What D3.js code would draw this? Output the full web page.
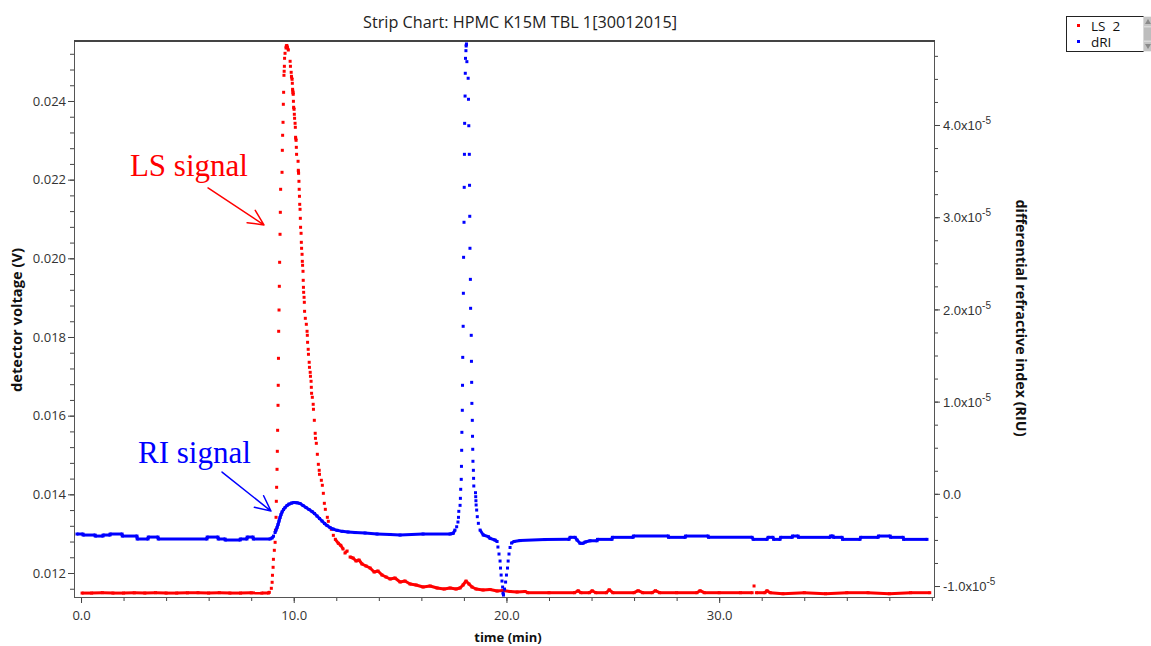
<!DOCTYPE html>
<html>
<head>
<meta charset="utf-8">
<script src="https://cdn.jsdelivr.net/npm/d3@7"></script>
<style>
  html, body { margin: 0; padding: 0; background: #fff; }
  svg { display: block; font-family: "Open Sans", "DejaVu Sans", sans-serif; }
</style>
</head>
<body>
<svg id="chart" width="1151" height="646"></svg>
<script>
// ---- chart text -------------------------------------------------------
const chartTitle = "Strip Chart: HPMC K15M TBL 1[30012015]";
const xTitle = "time (min)";
const yLeftTitle = "detector voltage (V)";
const yRightTitle = "differential refractive index (RIU)";
const seriesNames = ["LS  2", "dRI"];

// ---- tick values --------------------------------------------------------
const timeTicks = [0, 10, 20, 30];
const voltTicks = [0.012, 0.014, 0.016, 0.018, 0.020, 0.022, 0.024];
// refractive index ticks, in units of 1e-5 RIU
const riTicks = [-1, 0, 1, 2, 3, 4];

// ---- LS 2 light scattering detector: [time (min), voltage (V)] ----------
const lsSignal = [
  [0.05,0.011490],[0.5,0.011490],[1.0,0.011500],[1.5,0.011490],[2.0,0.011490],[2.5,0.011495],
  [3.0,0.011490],[3.5,0.011500],[4.0,0.011490],[4.5,0.011490],[5.0,0.011495],[5.5,0.011500],
  [6.0,0.011490],[6.5,0.011500],[7.0,0.011490],[7.5,0.011490],[8.0,0.011495],[8.5,0.011490],
  [8.815,0.011492],
  // leading edge of the polymer peak
  [8.853,0.011509],[8.947,0.011611],[8.985,0.011764],[9.000,0.011942],[9.030,0.012145],
  [9.045,0.012348],[9.088,0.012577],[9.125,0.012780],[9.140,0.013086],[9.168,0.013416],
  [9.182,0.013823],[9.196,0.014179],[9.215,0.014636],[9.229,0.015094],[9.243,0.015628],
  [9.262,0.016263],[9.272,0.016772],[9.282,0.017458],[9.292,0.018145],[9.309,0.018686],
  [9.323,0.019289],[9.337,0.019899],[9.356,0.020611],[9.370,0.021170],[9.384,0.021755],
  [9.450,0.022187],[9.464,0.022746],[9.478,0.023128],[9.497,0.023458],[9.511,0.023916],
  [9.525,0.024221],[9.540,0.024653],[9.550,0.024755],[9.560,0.024882],[9.570,0.025085],
  [9.591,0.025212],[9.638,0.025347],[9.652,0.025398],[9.675,0.025411],[9.699,0.025365],
  // trailing edge
  [9.746,0.025296],[9.830,0.025009],[9.845,0.024882],[9.880,0.024729],[9.893,0.024627],
  [9.922,0.024551],[9.934,0.024450],[9.946,0.024297],[9.965,0.024221],[9.975,0.024170],
  [9.985,0.023992],[9.995,0.023840],[10.016,0.023789],[10.028,0.023662],[10.040,0.023560],
  [10.063,0.023433],[10.075,0.023331],[10.087,0.023077],[10.110,0.023000],[10.122,0.022822],
  [10.134,0.022644],[10.204,0.022467],[10.216,0.022238],[10.228,0.022161],[10.245,0.021958],
  [10.257,0.021755],[10.269,0.021577],[10.281,0.021373],[10.298,0.021246],[10.310,0.021017],
  [10.322,0.020789],[10.345,0.020636],[10.357,0.020407],[10.369,0.020255],[10.392,0.020102],
  [10.404,0.019924],[10.416,0.019823],[10.436,0.019670],[10.446,0.019441],[10.456,0.019263],
  [10.466,0.019136],[10.486,0.019009],[10.498,0.018882],[10.510,0.018653],[10.545,0.018475],
  [10.592,0.018323],[10.627,0.018145],[10.639,0.018043],[10.651,0.017865],[10.680,0.017687],
  [10.692,0.017560],[10.727,0.017357],[10.739,0.017229],[10.774,0.017102],[10.786,0.017001],
  [10.815,0.016874],[10.827,0.016721],[10.839,0.016569],[10.874,0.016467],[10.915,0.016289],
  [10.927,0.016162],[10.968,0.015882],[11.009,0.015552],[11.021,0.015424],[11.062,0.015297],
  [11.110,0.015018],[11.157,0.014763],[11.198,0.014611],[11.210,0.014509],[11.298,0.014357],
  [11.345,0.014230],[11.392,0.014026],[11.439,0.013772],[11.486,0.013619],[11.580,0.013416],
  [11.627,0.013314],[11.768,0.013111],[11.862,0.012958],[11.956,0.012857],[12.097,0.012755],
  [12.210,0.012704],
  // slow decay towards baseline
  [12.32,0.012610],[12.41,0.012508],[12.51,0.012559],[12.65,0.012407],[12.79,0.012381],
  [12.93,0.012305],[13.07,0.012331],[13.21,0.012229],[13.40,0.012178],[13.59,0.012127],
  [13.78,0.012025],[13.96,0.012051],[14.15,0.011949],[14.34,0.011898],[14.53,0.011847],
  [14.76,0.011873],[15.00,0.011771],[15.23,0.011797],[15.47,0.011720],[15.75,0.011695],
  [16.08,0.011644],[16.41,0.011670],[16.74,0.011619],[17.07,0.011593],[17.35,0.011619],
  [17.63,0.011593],[17.82,0.011619],[17.96,0.011695],[18.10,0.011797],[18.24,0.011720],
  [18.38,0.011644],[18.57,0.011593],[18.90,0.011568],[19.23,0.011581],[19.56,0.011542],
  [19.84,0.011555],[20.17,0.011530],[20.50,0.011517],[20.87,0.011530],
  // baseline after elution
  [21.0,0.011499],[22.0,0.011499],[23.2,0.011499],[23.37,0.011550],[23.5,0.011499],
  [23.9,0.011499],[24.03,0.011550],[24.2,0.011499],[24.7,0.011499],[24.83,0.011575],
  [25.0,0.011499],[26.0,0.011499],[26.19,0.011550],[26.4,0.011499],[26.85,0.011499],
  [27.0,0.011550],[27.2,0.011499],[28.0,0.011499],[28.95,0.011499],[29.1,0.011550],
  [29.3,0.011499],[30.0,0.011499],[31.0,0.011499],[31.55,0.011499],[31.64,0.011670],
  [31.75,0.011499],[32.15,0.011499],[32.25,0.011550],[32.4,0.011499],[33.0,0.011474],
  [34.0,0.011499],[35.0,0.011474],[36.0,0.011499],[37.0,0.011499],[38.0,0.011474],
  [39.0,0.011499],[39.9,0.011499]
];

// ---- dRI refractive index detector: [time (min), RIU in units of 1e-5] --
const riSignal = [
  [-0.19,-0.436],[0.09,-0.436],[0.10,-0.447],[0.66,-0.447],[0.67,-0.458],[1.03,-0.458],
  [1.04,-0.447],[1.36,-0.447],[1.37,-0.436],[1.93,-0.436],[1.94,-0.458],[2.63,-0.458],
  [2.64,-0.490],[3.15,-0.490],[3.16,-0.469],[3.62,-0.469],[3.63,-0.490],[5.92,-0.490],
  [5.93,-0.469],[6.44,-0.469],[6.45,-0.490],[6.77,-0.490],[6.78,-0.501],[7.48,-0.501],
  [7.49,-0.490],[7.80,-0.490],[7.81,-0.469],[8.09,-0.469],[8.10,-0.490],[8.886,-0.490],
  // broad polymer band
  [8.980,-0.479],[9.050,-0.458],[9.121,-0.420],[9.168,-0.393],[9.215,-0.366],[9.262,-0.333],
  [9.309,-0.295],[9.356,-0.257],[9.403,-0.225],[9.450,-0.197],[9.521,-0.170],[9.591,-0.149],
  [9.685,-0.127],[9.779,-0.111],[9.897,-0.100],[10.014,-0.094],[10.155,-0.097],[10.296,-0.105],
  [10.437,-0.127],[10.578,-0.149],[10.719,-0.170],[10.860,-0.192],[10.978,-0.214],[11.095,-0.241],
  [11.213,-0.268],[11.331,-0.295],[11.448,-0.322],[11.566,-0.344],[11.707,-0.366],[11.848,-0.382],
  [12.036,-0.396],[12.271,-0.407],[12.553,-0.414],[12.882,-0.420],[13.352,-0.425],[13.916,-0.436],
  [14.527,-0.441],[14.998,-0.447],[16.079,-0.436],[17.348,-0.436],[17.442,-0.431],
  // solvent / salt peak
  [17.50,-0.428],[17.58,-0.393],[17.66,-0.357],[17.72,-0.306],[17.745,-0.255],[17.76,-0.190],
  [17.82,-0.125],[17.835,-0.049],[17.85,0.049],[17.875,0.157],[17.885,0.298],[17.895,0.472],
  [17.905,0.667],[17.925,0.906],[17.935,1.177],[17.945,1.480],[17.965,1.817],[17.975,2.175],
  [17.985,2.565],[18.005,2.945],[18.015,3.324],[18.025,3.682],[18.035,4.018],[18.055,4.314],
  [18.065,4.561],[18.075,4.723],[18.095,4.806],[18.105,4.857],[18.12,4.879],
  [18.14,4.687],[18.20,4.507],[18.215,4.279],[18.23,3.992],[18.255,3.682],[18.265,3.346],
  [18.275,3.010],[18.285,2.663],[18.305,2.326],[18.315,2.012],[18.345,1.719],[18.355,1.437],
  [18.365,1.209],[18.375,0.981],[18.395,0.797],[18.405,0.624],[18.415,0.483],[18.425,0.353],
  [18.445,0.255],[18.455,0.168],[18.465,0.085],[18.545,0.012],[18.555,-0.031],[18.565,-0.075],
  [18.575,-0.121],[18.60,-0.176],[18.63,-0.248],[18.68,-0.320],[18.76,-0.393],[18.91,-0.447],
  [19.15,-0.465],[19.23,-0.483],[19.46,-0.501],
  // negative system peak
  [19.56,-0.517],[19.60,-0.577],[19.65,-0.653],[19.70,-0.729],[19.72,-0.805],[19.75,-0.881],
  [19.79,-0.946],[19.82,-1.011],[19.84,-1.076],[19.86,-1.098],[19.91,-1.033],[19.96,-0.957],
  [20.00,-0.881],[20.05,-0.805],[20.08,-0.729],[20.12,-0.653],[20.17,-0.582],[20.24,-0.534],
  [20.36,-0.517],[20.64,-0.507],[21.81,-0.496],[22.94,-0.494],
  // baseline after elution
  [22.99,-0.472],[23.23,-0.472],[23.32,-0.501],[23.46,-0.537],[23.60,-0.537],[23.70,-0.523],
  [23.93,-0.509],[24.26,-0.509],[24.28,-0.494],[24.96,-0.494],[24.98,-0.472],[25.95,-0.472],
  [25.97,-0.458],[27.61,-0.458],[27.62,-0.472],[28.40,-0.472],[28.42,-0.458],[29.48,-0.458],
  [29.50,-0.472],[31.55,-0.472],[31.60,-0.494],[32.25,-0.494],[32.30,-0.472],[32.53,-0.472],
  [32.56,-0.494],[32.86,-0.494],[32.89,-0.472],[33.43,-0.472],[33.45,-0.458],[33.71,-0.458],
  [33.73,-0.472],[35.21,-0.472],[35.24,-0.458],[35.35,-0.458],[35.38,-0.472],[35.78,-0.472],
  [35.80,-0.494],[36.62,-0.494],[36.65,-0.472],[37.47,-0.472],[37.49,-0.458],[38.04,-0.458],
  [38.06,-0.472],[38.65,-0.472],[38.67,-0.494],[39.77,-0.494]
];

// ---- annotations (data coordinates) -------------------------------------
const lsNote = { text: "LS signal", t: 2.30, v: 0.022105, from: [5.97, 0.021788], to: [8.60, 0.020849] };
const riNote = { text: "RI signal", t: 2.68, v: 0.334, from: [6.63, 0.236], to: [8.93, -0.187] };

const colors = { ls: "#ff0000", ri: "#0000ff" };

// ---- layout ---------------------------------------------------------------
const svg = d3.select("#chart");
const P = { l: 74, r: 934, t: 41, b: 597 };

const x = d3.scaleLinear().domain([-0.33, 40.1]).range([P.l, P.r]);
const yL = d3.scaleLinear().domain([0.01139, 0.025525]).range([P.b, P.t]);
const yR = d3.scaleLinear().domain([-1.119, 4.911]).range([P.b, P.t]);

// title
svg.append("text")
  .attr("x", 520).attr("y", 28)
  .attr("text-anchor", "middle")
  .attr("font-size", 15.5).attr("fill", "#222")
  .attr("textLength", 314).attr("lengthAdjust", "spacingAndGlyphs")
  .text(chartTitle);

// ---- axes -------------------------------------------------------------------
function styleAxis(g) {
  g.select(".domain").remove();
  g.selectAll(".tick line").attr("stroke", "#444");
  g.selectAll(".tick text").attr("fill", "#333").attr("font-size", 13)
    .attr("font-family", "'Open Sans', 'DejaVu Sans', sans-serif");
}

const timeMinor = d3.range(0, 40.01, 2);
const voltMinor = d3.range(0.0116, 0.02552, 0.0004);
const riMinor = d3.range(-1, 4.9, 0.25);

// bottom
svg.append("g").attr("transform", `translate(0,${P.b})`)
  .call(d3.axisBottom(x).tickValues(timeMinor).tickSize(4).tickFormat(""))
  .call(styleAxis);
svg.append("g").attr("transform", `translate(0,${P.b})`)
  .call(d3.axisBottom(x).tickValues(timeTicks).tickSize(6).tickPadding(8).tickFormat(d3.format(".1f")))
  .call(styleAxis);

// left
svg.append("g").attr("transform", `translate(${P.l},0)`)
  .call(d3.axisLeft(yL).tickValues(voltMinor).tickSize(4).tickFormat(""))
  .call(styleAxis);
svg.append("g").attr("transform", `translate(${P.l},0)`)
  .call(d3.axisLeft(yL).tickValues(voltTicks).tickSize(6).tickPadding(2).tickFormat(d3.format(".3f")))
  .call(styleAxis);

// right (labels written as m.0x10^-5)
svg.append("g").attr("transform", `translate(${P.r},0)`)
  .call(d3.axisRight(yR).tickValues(riMinor).tickSize(4).tickFormat(""))
  .call(styleAxis);
const gR = svg.append("g").attr("transform", `translate(${P.r},0)`)
  .call(d3.axisRight(yR).tickValues(riTicks).tickSize(6).tickPadding(3).tickFormat(""))
  .call(styleAxis);
gR.selectAll(".tick").each(function (d) {
  const t = d3.select(this).append("text")
    .attr("x", 9).attr("dy", "0.36em")
    .attr("fill", "#333").attr("font-size", 13);
  if (d === 0) {
    t.text("0.0");
  } else {
    t.append("tspan").text(d.toFixed(1) + "x10");
    t.append("tspan").attr("dy", -6).attr("font-size", 10).text("-5");
  }
});

// frame
svg.append("rect")
  .attr("x", P.l + 0.5).attr("y", P.t + 0.5)
  .attr("width", P.r - P.l).attr("height", P.b - P.t)
  .attr("fill", "none").attr("stroke", "#555").attr("stroke-width", 1);
svg.append("line")
  .attr("x1", P.l).attr("x2", P.r + 1).attr("y1", P.t).attr("y2", P.t)
  .attr("stroke", "#444").attr("stroke-width", 2);

// axis titles
svg.append("text")
  .attr("transform", `translate(22,320) rotate(-90)`)
  .attr("text-anchor", "middle").attr("font-weight", "bold")
  .attr("font-size", 14).attr("fill", "#111")
  .attr("textLength", 144).attr("lengthAdjust", "spacingAndGlyphs")
  .text(yLeftTitle);
svg.append("text")
  .attr("transform", `translate(1016,318) rotate(90)`)
  .attr("text-anchor", "middle").attr("font-weight", "bold")
  .attr("font-size", 14).attr("fill", "#111")
  .attr("textLength", 237).attr("lengthAdjust", "spacingAndGlyphs")
  .text(yRightTitle);
svg.append("text")
  .attr("x", 508).attr("y", 642)
  .attr("text-anchor", "middle").attr("font-weight", "bold")
  .attr("font-size", 13).attr("fill", "#111")
  .text(xTitle);

// ---- traces ------------------------------------------------------------------
svg.append("clipPath").attr("id", "plot-clip")
  .append("rect").attr("x", P.l + 1).attr("y", P.t + 1)
  .attr("width", P.r - P.l - 1).attr("height", P.b - P.t - 1);

// Samples are drawn as 3px squares; neighbouring samples that sit close together
// on screen, or follow a shallow slope, are joined so the trace reads as continuous.
function drawTrace(data, yScale, color) {
  const pts = data.map(d => [x(d[0]), yScale(d[1])]);
  const g = svg.append("g").attr("clip-path", "url(#plot-clip)");
  const segs = [];
  for (let i = 1; i < pts.length; i++) {
    const dx = Math.abs(pts[i][0] - pts[i - 1][0]), dy = Math.abs(pts[i][1] - pts[i - 1][1]);
    if (dy <= 2.5 || Math.hypot(dx, dy) <= 3.7 || dy <= 1.6 * dx) segs.push([pts[i - 1], pts[i]]);
  }
  g.selectAll("line").data(segs).join("line")
    .attr("x1", s => s[0][0]).attr("y1", s => s[0][1])
    .attr("x2", s => s[1][0]).attr("y2", s => s[1][1])
    .attr("stroke", color).attr("stroke-width", 3);
  g.selectAll("rect").data(pts).join("rect")
    .attr("x", p => p[0] - 1.5).attr("y", p => p[1] - 1.5)
    .attr("width", 3).attr("height", 3).attr("fill", color);
}

drawTrace(lsSignal, yL, colors.ls);
drawTrace(riSignal, yR, colors.ri);

// ---- annotations ------------------------------------------------------------
function arrow(x1, y1, x2, y2, color) {
  const a = Math.atan2(y2 - y1, x2 - x1), len = 17, spread = 0.45;
  const h1 = [x2 - len * Math.cos(a - spread), y2 - len * Math.sin(a - spread)];
  const h2 = [x2 - len * Math.cos(a + spread), y2 - len * Math.sin(a + spread)];
  svg.append("path")
    .attr("d", `M${x1},${y1}L${x2},${y2}M${h1[0]},${h1[1]}L${x2},${y2}L${h2[0]},${h2[1]}`)
    .attr("fill", "none").attr("stroke", color).attr("stroke-width", 1.5)
    .attr("stroke-linecap", "round").attr("stroke-linejoin", "round");
}

svg.append("text")
  .attr("x", x(lsNote.t)).attr("y", yL(lsNote.v))
  .attr("font-family", "'Liberation Serif', 'Times New Roman', serif")
  .attr("font-size", 31).attr("fill", colors.ls)
  .text(lsNote.text);
arrow(x(lsNote.from[0]), yL(lsNote.from[1]), x(lsNote.to[0]), yL(lsNote.to[1]), colors.ls);

svg.append("text")
  .attr("x", x(riNote.t)).attr("y", yR(riNote.v))
  .attr("font-family", "'Liberation Serif', 'Times New Roman', serif")
  .attr("font-size", 31).attr("fill", colors.ri)
  .text(riNote.text);
arrow(x(riNote.from[0]), yR(riNote.from[1]), x(riNote.to[0]), yR(riNote.to[1]), colors.ri);

// ---- legend -------------------------------------------------------------------
const lg = svg.append("g").attr("transform", "translate(1066,16)");
lg.append("rect").attr("x", 0.5).attr("y", 0.5).attr("width", 77).attr("height", 35)
  .attr("fill", "#fff").attr("stroke", "#222");
// scroll bar at the right edge of the legend
lg.append("rect").attr("x", 77).attr("y", 0.5).attr("width", 9).attr("height", 35).attr("fill", "#d9d9d9");
lg.append("rect").attr("x", 78).attr("y", 1).attr("width", 8).attr("height", 9).attr("fill", "#c4c4c4");
lg.append("rect").attr("x", 78).attr("y", 11.5).attr("width", 8).attr("height", 13).attr("fill", "#bdbdbd");
lg.append("rect").attr("x", 78).attr("y", 26).attr("width", 8).attr("height", 9).attr("fill", "#c4c4c4");
lg.append("path").attr("d", "M79,8L82,3L85,8Z").attr("fill", "#8a8a8a");
lg.append("path").attr("d", "M79,28L82,33L85,28Z").attr("fill", "#8a8a8a");

const legendColors = [colors.ls, colors.ri];
seriesNames.forEach((name, i) => {
  const yy = 10 + i * 16;
  lg.append("rect").attr("x", 11).attr("y", yy - 2).attr("width", 3).attr("height", 3)
    .attr("fill", legendColors[i]);
  lg.append("text").attr("x", 25).attr("y", yy + 5)
    .attr("font-size", 13.5).attr("fill", "#111")
    .style("white-space", "pre")
    .text(name);
});
</script>
</body>
</html>
